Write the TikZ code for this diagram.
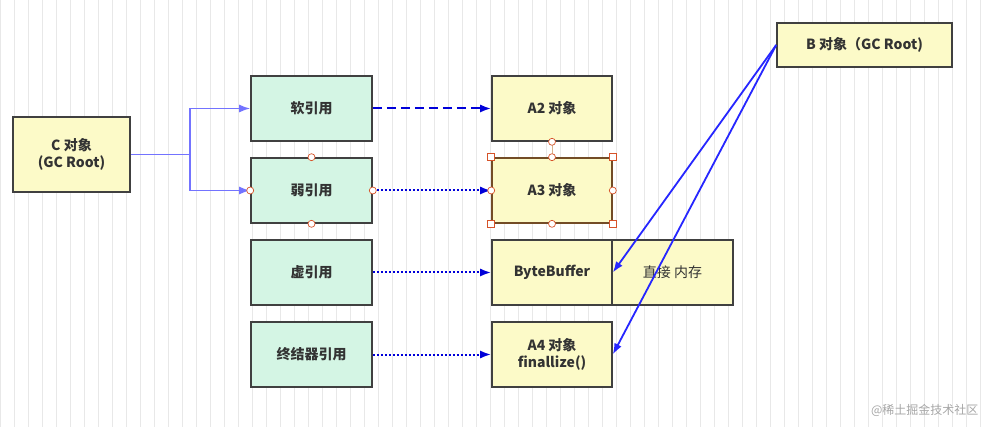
\documentclass[tikz,border=0pt]{standalone}
\usepackage{fontspec}
\setmainfont{Open Sans}
\newfontfamily\cjk{Noto Sans CJK SC}
\usetikzlibrary{arrows.meta,calc}
\definecolor{mint}{RGB}{212,245,228}
\definecolor{pale}{RGB}{252,250,200}
\begin{document}
\begin{tikzpicture}[x=1pt,y=-1pt,
 box/.style={draw=black!75,line width=1.6pt,font=\cjk\bfseries\fontsize{14}{17}\selectfont,text=black!80,align=center,inner sep=0pt},
 yb/.style={box,fill=pale},
 gb/.style={box,fill=mint},
 ln/.style={color=blue!55!white,line width=1.6pt,-{Latex[length=11pt,width=8pt]}},
 dk/.style={color=blue!85!black,line width=2pt,-{Latex[length=11pt,width=8pt]}},
 hd/.style={draw=red!35!brown,fill=white,line width=0.7pt}]
\useasboundingbox (0,0) rectangle (987,427);
\fill[white] (0,0) rectangle (987,427);
\draw[black!9,step=14] (0,0) grid (987,427);
\node[yb,minimum width=117,minimum height=75] (c) at (71.5,154.5) {C 对象\\(GC Root)};
\node[gb,minimum width=121,minimum height=65] (soft) at (311.5,108.5) {软引用};
\node[gb,minimum width=121,minimum height=65] (weak) at (311.5,190.5) {弱引用};
\node[gb,minimum width=121,minimum height=65] (ph) at (311.5,272.5) {虚引用};
\node[gb,minimum width=121,minimum height=65] (fin) at (311.5,354.5) {终结器引用};
\node[yb,minimum width=120,minimum height=65] (a2) at (552,108.5) {A2 对象};
\node[yb,minimum width=120,minimum height=65,draw=brown!60!black] (a3) at (552,190.5) {A3 对象};
\node[yb,minimum width=120,minimum height=65] (bb) at (552,272.5) {ByteBuffer};
\node[yb,minimum width=121,minimum height=65,font=\cjk\fontsize{14}{17}\selectfont] (mem) at (672.5,272.5) {直接 内存};
\node[yb,minimum width=120,minimum height=65] (a4) at (552,354.5) {A4 对象\\finallize()};
\node[yb,minimum width=175,minimum height=44] (b) at (864.5,45) {B 对象（GC Root)};
\coordinate (j) at (190,154.5);
\draw[ln] (c.east) -- (j) |- (soft.west);
\draw[ln] (j) |- (weak.west);
\draw[dk,dash pattern=on 9pt off 5pt] (soft) -- (a2);
\draw[dk,dash pattern=on 2pt off 2pt] (weak) -- (a3);
\draw[dk,dash pattern=on 2pt off 2pt] (ph) -- (bb);
\draw[dk,dash pattern=on 2pt off 2pt] (fin) -- (a4);
\coordinate (bb1) at (bb.east);
\coordinate (a41) at (a4.east);
\draw[ln,color=blue!85,line width=1.8pt] (b.west) -- (bb1);
\draw[ln,color=blue!85,line width=1.8pt] (b.west) -- (a41);
\draw[brown!60,line width=1pt] (a2.south) -- (a3.north);
\foreach \p in {weak.north,weak.south,weak.west,weak.east,a2.south,a3.north,a3.south,a3.west,a3.east}
  \draw[hd] (\p) circle (3.5);
\foreach \p in {a3.north west,a3.north east,a3.south west,a3.south east}
  \draw[hd] ($(\p)+(-3.5,-3.5)$) rectangle ++(7,7);
\node[font=\cjk\fontsize{12}{14}\selectfont,text=black!35,anchor=east] (wm) at (982,410) {@稀土掘金技术社区};
\end{tikzpicture}
\end{document}
